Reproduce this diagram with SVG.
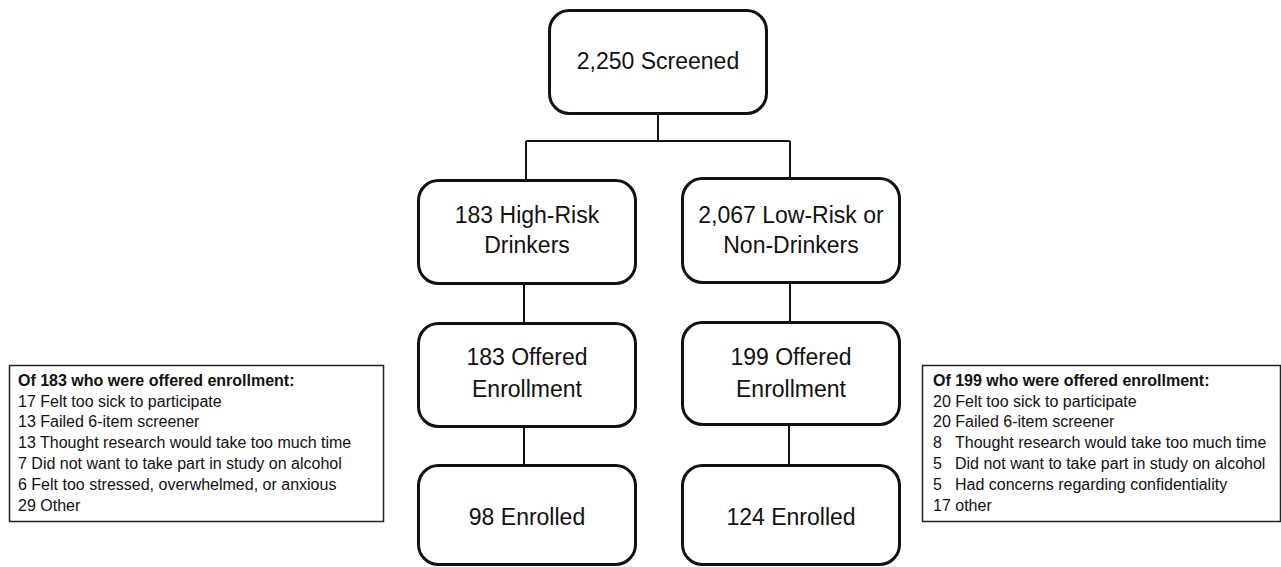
<svg xmlns="http://www.w3.org/2000/svg" width="1281" height="567" viewBox="0 0 1281 567">
<style>
.box{fill:#fff;stroke:#111;stroke-width:3}
.lbl{font-family:"Liberation Sans",Arial,sans-serif;font-size:23px;fill:#111;text-anchor:middle}
.note{fill:#fff;stroke:#222;stroke-width:1.5}
.nt{font-family:"Liberation Sans",Arial,sans-serif;font-size:16px;fill:#111}
.nh{font-weight:bold}
.conn{stroke:#111;stroke-width:2;fill:none}
</style>
<rect width="1281" height="567" fill="#fff"/>
<g id="connectors">
<path class="conn" d="M658 114 V141 M526 141 H790 M526 141 V180 M790 141 V178"/>
<path class="conn" d="M524 284 V323 M790 283 V322"/>
<path class="conn" d="M524 427 V465 M789 425 V465"/>
</g>
<g id="screened">
<rect class="box" x="549.5" y="10.5" width="217" height="103" rx="20"/>
<text class="lbl" x="658" y="69">2,250 Screened</text>
</g>
<g id="highrisk">
<rect class="box" x="418.5" y="180.5" width="217" height="103" rx="20"/>
<text class="lbl" x="527" y="223">183 High-Risk</text>
<text class="lbl" x="527" y="253">Drinkers</text>
</g>
<g id="lowrisk">
<rect class="box" x="682.5" y="178.5" width="217" height="104" rx="20"/>
<text class="lbl" x="791" y="223">2,067 Low-Risk or</text>
<text class="lbl" x="791" y="253">Non-Drinkers</text>
</g>
<g id="offered-left">
<rect class="box" x="418.5" y="323.5" width="217" height="103" rx="20"/>
<text class="lbl" x="527" y="365">183 Offered</text>
<text class="lbl" x="527" y="397">Enrollment</text>
</g>
<g id="offered-right">
<rect class="box" x="682.5" y="322.5" width="217" height="102" rx="20"/>
<text class="lbl" x="791" y="365">199 Offered</text>
<text class="lbl" x="791" y="397">Enrollment</text>
</g>
<g id="enrolled-left">
<rect class="box" x="418.5" y="465.5" width="217" height="99" rx="20"/>
<text class="lbl" x="527" y="525">98 Enrolled</text>
</g>
<g id="enrolled-right">
<rect class="box" x="682.5" y="465.5" width="217" height="99" rx="20"/>
<text class="lbl" x="791" y="525">124 Enrolled</text>
</g>
<g id="note-left">
<rect class="note" x="9.5" y="365.5" width="374" height="156"/>
<text class="nt nh" x="18" y="386">Of 183 who were offered enrollment:</text>
<text class="nt" x="18" y="406.5">17 Felt too sick to participate</text>
<text class="nt" x="18" y="427">13 Failed 6-item screener</text>
<text class="nt" x="18" y="448">13 Thought research would take too much time</text>
<text class="nt" x="18" y="469">7 Did not want to take part in study on alcohol</text>
<text class="nt" x="18" y="490">6 Felt too stressed, overwhelmed, or anxious</text>
<text class="nt" x="18" y="511">29 Other</text>
</g>
<g id="note-right">
<rect class="note" x="922.5" y="365.5" width="358" height="156"/>
<text class="nt nh" x="933" y="386">Of 199 who were offered enrollment:</text>
<text class="nt" x="933" y="406.5">20 Felt too sick to participate</text>
<text class="nt" x="933" y="427">20 Failed 6-item screener</text>
<text class="nt" x="933" y="448">8<tspan x="955">Thought research would take too much time</tspan></text>
<text class="nt" x="933" y="469">5<tspan x="955">Did not want to take part in study on alcohol</tspan></text>
<text class="nt" x="933" y="490">5<tspan x="955">Had concerns regarding confidentiality</tspan></text>
<text class="nt" x="933" y="511">17 other</text>
</g>
</svg>
